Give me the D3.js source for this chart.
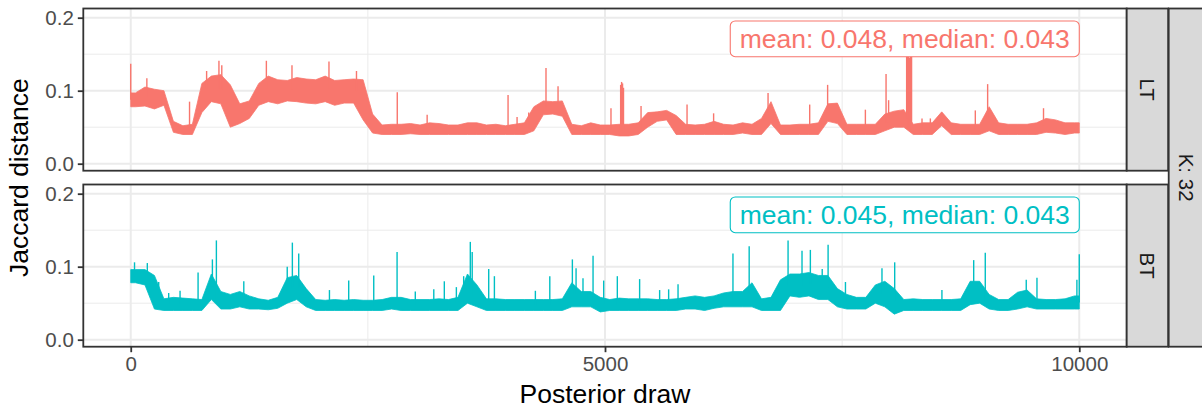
<!DOCTYPE html>
<html>
<head>
<meta charset="utf-8">
<script src="https://cdn.jsdelivr.net/npm/d3@7"></script>
<style>
  body { margin: 0; background: #fff; }
  svg { display: block; font-family: "Liberation Sans", Arial, sans-serif; }
</style>
</head>
<body>
<div id="chart"></div>
<script>
// bins of 100 draws; low / high edge of the dense part of the trace
var binDraws = d3.range(50, 10000, 100);

var ltLo = [
  0.078,0.079,0.075,0.08,0.043,0.04,0.04,0.07,0.085,0.082,
  0.05,0.055,0.062,0.08,0.085,0.082,0.086,0.085,0.083,0.082,
  0.085,0.08,0.083,0.083,0.06,0.042,0.04,0.04,0.04,0.041,
  0.04,0.04,0.04,0.04,0.04,0.04,0.04,0.04,0.04,0.04,
  0.04,0.04,0.045,0.067,0.068,0.065,0.04,0.04,0.04,0.04,
  0.04,0.038,0.038,0.04,0.05,0.058,0.06,0.04,0.04,0.04,
  0.04,0.04,0.04,0.04,0.042,0.04,0.04,0.055,0.04,0.04,
  0.04,0.04,0.04,0.058,0.055,0.04,0.04,0.04,0.04,0.045,
  0.05,0.05,0.04,0.04,0.04,0.052,0.04,0.04,0.04,0.04,
  0.045,0.04,0.04,0.04,0.04,0.04,0.043,0.042,0.04,0.042
];
var ltHi = [
  0.097,0.105,0.102,0.1,0.058,0.052,0.054,0.11,0.12,0.122,
  0.108,0.082,0.086,0.11,0.12,0.115,0.114,0.118,0.116,0.115,
  0.12,0.114,0.115,0.116,0.115,0.068,0.053,0.054,0.054,0.055,
  0.053,0.056,0.055,0.053,0.053,0.056,0.056,0.053,0.054,0.052,
  0.054,0.056,0.078,0.086,0.085,0.086,0.054,0.052,0.056,0.053,
  0.053,0.054,0.054,0.056,0.07,0.071,0.073,0.066,0.054,0.053,
  0.054,0.058,0.054,0.053,0.056,0.054,0.062,0.085,0.053,0.053,
  0.054,0.054,0.056,0.082,0.083,0.054,0.054,0.054,0.054,0.068,
  0.072,0.074,0.054,0.056,0.056,0.071,0.056,0.054,0.054,0.054,
  0.078,0.056,0.054,0.054,0.054,0.056,0.062,0.06,0.056,0.056
];
var ltSpikes = [
  [0,0.137],[170,0.117],[620,0.085],[800,0.127],[930,0.141],[960,0.135],
  [1430,0.141],[1700,0.135],[2090,0.14],[2380,0.127],[2810,0.098],
  [3125,0.067],[3978,0.094],[4073,0.064],[4196,0.07],[4378,0.131],[4505,0.106],
  [5063,0.076],[5165,0.108],[5175,0.112],[5185,0.11],[5195,0.104],[5380,0.079],
  [5865,0.081],[6145,0.069],[6719,0.097],[7158,0.081],[7347,0.108],[7745,0.074],
  [7963,0.123],[7990,0.087],[8180,0.16],[8190,0.16],[8200,0.15],[8210,0.145],
  [8220,0.16],[8232,0.16],[8342,0.062],[8430,0.062],[8904,0.073],[9034,0.109],
  [9623,0.076]
];

var btLo = [
  0.078,0.075,0.042,0.04,0.04,0.04,0.04,0.04,0.055,0.042,
  0.042,0.045,0.042,0.042,0.041,0.043,0.05,0.055,0.045,0.04,
  0.04,0.04,0.04,0.04,0.04,0.04,0.04,0.042,0.04,0.04,
  0.04,0.04,0.04,0.04,0.04,0.05,0.045,0.04,0.04,0.04,
  0.04,0.04,0.04,0.04,0.04,0.04,0.045,0.045,0.045,0.038,
  0.04,0.04,0.04,0.04,0.04,0.04,0.04,0.04,0.042,0.042,
  0.04,0.043,0.045,0.045,0.045,0.045,0.04,0.04,0.04,0.06,
  0.058,0.06,0.055,0.055,0.045,0.042,0.042,0.042,0.05,0.045,
  0.035,0.04,0.04,0.04,0.04,0.04,0.04,0.04,0.048,0.05,
  0.042,0.04,0.04,0.042,0.045,0.042,0.042,0.042,0.042,0.042
];
var btHi = [
  0.096,0.096,0.088,0.056,0.058,0.057,0.056,0.055,0.09,0.066,
  0.062,0.066,0.06,0.056,0.054,0.058,0.085,0.088,0.07,0.055,
  0.054,0.055,0.054,0.055,0.054,0.054,0.055,0.058,0.058,0.055,
  0.055,0.055,0.056,0.055,0.058,0.09,0.075,0.056,0.056,0.055,
  0.055,0.055,0.055,0.055,0.055,0.056,0.078,0.066,0.066,0.058,
  0.055,0.057,0.056,0.056,0.056,0.055,0.055,0.056,0.058,0.06,
  0.058,0.06,0.064,0.066,0.066,0.078,0.056,0.058,0.082,0.09,
  0.09,0.092,0.088,0.088,0.07,0.062,0.058,0.058,0.075,0.08,
  0.07,0.055,0.056,0.055,0.055,0.055,0.055,0.056,0.08,0.08,
  0.062,0.055,0.055,0.065,0.068,0.056,0.055,0.055,0.056,0.06
];
var btSpikes = [
  [40,0.106],[175,0.105],[295,0.079],[400,0.064],[520,0.067],[710,0.092],
  [861,0.11],[903,0.136],[1192,0.08],[1650,0.1],[1704,0.133],[1771,0.118],
  [2095,0.068],[2298,0.081],[2562,0.088],[2808,0.12],[3000,0.066],[3195,0.069],
  [3306,0.08],[3433,0.072],[3510,0.087],[3580,0.134],[3600,0.12],[3774,0.097],
  [3834,0.087],[4266,0.067],[4418,0.087],[4656,0.11],[4695,0.098],[4768,0.084],
  [4874,0.115],[4986,0.081],[5130,0.087],[5365,0.083],[5576,0.068],[5671,0.069],
  [5770,0.076],[6349,0.118],[6520,0.128],[6930,0.136],[7077,0.122],[7165,0.123],
  [7290,0.097],[7352,0.13],[7535,0.079],[7920,0.098],[8054,0.106],[8552,0.068],
  [8887,0.109],[9009,0.119],[9441,0.082],[9554,0.085],[9975,0.082],[10000,0.117]
];

var panels = [
  { strip: "LT", color: "#F8766D", lo: ltLo, hi: ltHi, spikes: ltSpikes, label: "mean: 0.048, median: 0.043" },
  { strip: "BT", color: "#00BFC4", lo: btLo, hi: btHi, spikes: btSpikes, label: "mean: 0.045, median: 0.043" }
];
var xTicks = [0, 5000, 10000];
var yTicks = [0, 0.1, 0.2];
var outerStrip = "K: 32";

var width = 1202, height = 409;
var left = 83.3, right = 1126.7;
var panelTops = [8.5, 184.5], panelH = 162.2;
var stripW = 41.5;

var svg = d3.select("#chart").append("svg")
    .attr("width", width)
    .attr("height", height);

var x = d3.scaleLinear().domain([-500, 10500]).range([left, right]);

panels.forEach(function(p, i) {
  var top = panelTops[i];
  var y = d3.scaleLinear().domain([-0.0096, 0.2126]).range([top + panelH, top]);
  var g = svg.append("g");

  // grid
  g.selectAll(".ymin").data([0.05, 0.15]).enter().append("line")
      .attr("x1", left).attr("x2", right)
      .attr("y1", function(d) { return y(d); }).attr("y2", function(d) { return y(d); })
      .attr("stroke", "#EBEBEB").attr("stroke-width", 1);
  g.selectAll(".xmin").data([2500, 7500]).enter().append("line")
      .attr("y1", top).attr("y2", top + panelH)
      .attr("x1", function(d) { return x(d); }).attr("x2", function(d) { return x(d); })
      .attr("stroke", "#EBEBEB").attr("stroke-width", 1);
  g.selectAll(".ymaj").data(yTicks).enter().append("line")
      .attr("x1", left).attr("x2", right)
      .attr("y1", function(d) { return y(d); }).attr("y2", function(d) { return y(d); })
      .attr("stroke", "#EBEBEB").attr("stroke-width", 2);
  g.selectAll(".xmaj").data(xTicks).enter().append("line")
      .attr("y1", top).attr("y2", top + panelH)
      .attr("x1", function(d) { return x(d); }).attr("x2", function(d) { return x(d); })
      .attr("stroke", "#EBEBEB").attr("stroke-width", 2);

  // trace band
  var bins = binDraws.map(function(d, k) { return { x: d, lo: p.lo[k], hi: p.hi[k] }; });
  bins.unshift({ x: 0, lo: p.lo[0], hi: p.hi[0] });
  bins.push({ x: 10000, lo: p.lo[99], hi: p.hi[99] });

  var area = d3.area()
      .x(function(d) { return x(d.x); })
      .y0(function(d) { return y(d.lo); })
      .y1(function(d) { return y(d.hi); });
  g.append("path")
      .datum(bins)
      .attr("d", area)
      .attr("fill", p.color)
      .attr("stroke", p.color)
      .attr("stroke-width", 0.8)
      .attr("stroke-linejoin", "round");

  g.selectAll(".spike").data(p.spikes).enter().append("line")
      .attr("x1", function(d) { return x(d[0]); })
      .attr("x2", function(d) { return x(d[0]); })
      .attr("y1", function(d) {
        var k = Math.min(99, Math.floor(d[0] / 100));
        return y((p.lo[k] + p.hi[k]) / 2);
      })
      .attr("y2", function(d) { return y(d[1]); })
      .attr("stroke", p.color)
      .attr("stroke-width", 1.4);

  // mean / median label
  var lab = g.append("g");
  var txt = lab.append("text")
      .attr("font-size", 26.5)
      .attr("fill", p.color)
      .attr("text-anchor", "end")
      .text(p.label);
  var tw = txt.node().getComputedTextLength();
  var bx = x(10000), by = y(0.1955), bh = 35.7, pad = 9.5;
  lab.insert("rect", "text")
      .attr("x", bx - tw - 2 * pad).attr("y", by)
      .attr("width", tw + 2 * pad).attr("height", bh)
      .attr("rx", 5).attr("ry", 5)
      .attr("fill", "#fff")
      .attr("stroke", p.color)
      .attr("stroke-width", 1.1);
  txt.attr("x", bx - pad).attr("y", by + 27.3);

  // panel border
  g.append("rect")
      .attr("x", left).attr("y", top)
      .attr("width", right - left).attr("height", panelH)
      .attr("fill", "none").attr("stroke", "#333333").attr("stroke-width", 1.8);

  // strip
  g.append("rect")
      .attr("x", right).attr("y", top)
      .attr("width", stripW).attr("height", panelH)
      .attr("fill", "#D9D9D9").attr("stroke", "#333333").attr("stroke-width", 1.8);
  g.append("text")
      .attr("transform", "translate(" + (right + stripW / 2) + "," + (top + panelH / 2) + ") rotate(90)")
      .attr("text-anchor", "middle")
      .attr("dy", "0.35em")
      .attr("font-size", 20.5)
      .attr("fill", "#1A1A1A")
      .text(p.strip);

  // y axis
  var yAxis = d3.axisLeft(y).tickValues(yTicks).tickSize(5.5).tickPadding(4)
      .tickFormat(d3.format(".1f"));
  var ya = g.append("g").attr("transform", "translate(" + left + ",0)").call(yAxis);
  ya.select(".domain").remove();
  ya.selectAll(".tick line").attr("stroke", "#333333").attr("stroke-width", 1.8);
  ya.selectAll(".tick text").attr("fill", "#4D4D4D").attr("font-size", 20.5)
      .attr("font-family", "Liberation Sans, Arial, sans-serif");

  if (i === panels.length - 1) {
    var xAxis = d3.axisBottom(x).tickValues(xTicks).tickSize(5.5).tickPadding(4)
        .tickFormat(d3.format("d"));
    var xa = g.append("g").attr("transform", "translate(0," + (top + panelH) + ")").call(xAxis);
    xa.select(".domain").remove();
    xa.selectAll(".tick line").attr("stroke", "#333333").attr("stroke-width", 1.8);
    xa.selectAll(".tick text").attr("fill", "#4D4D4D").attr("font-size", 20.5)
        .attr("font-family", "Liberation Sans, Arial, sans-serif");
  }
});

// outer strip
var outerL = right + stripW + 0.5;
svg.append("rect")
    .attr("x", outerL).attr("y", panelTops[0])
    .attr("width", 50).attr("height", panelTops[1] + panelH - panelTops[0])
    .attr("fill", "#D9D9D9").attr("stroke", "#333333").attr("stroke-width", 1.8);
svg.append("text")
    .attr("transform", "translate(" + (outerL + 17) + "," + ((panelTops[0] + panelTops[1] + panelH) / 2) + ") rotate(90)")
    .attr("text-anchor", "middle")
    .attr("dy", "0.35em")
    .attr("font-size", 20.5)
    .attr("fill", "#1A1A1A")
    .text(outerStrip);

// axis titles
svg.append("text")
    .attr("x", (left + right) / 2).attr("y", 403)
    .attr("text-anchor", "middle")
    .attr("font-size", 26.5)
    .attr("fill", "#000")
    .text("Posterior draw");
svg.append("text")
    .attr("transform", "translate(28," + ((panelTops[0] + panelTops[1] + panelH) / 2) + ") rotate(-90)")
    .attr("text-anchor", "middle")
    .attr("font-size", 26.5)
    .attr("fill", "#000")
    .text("Jaccard distance");
</script>
</body>
</html>
